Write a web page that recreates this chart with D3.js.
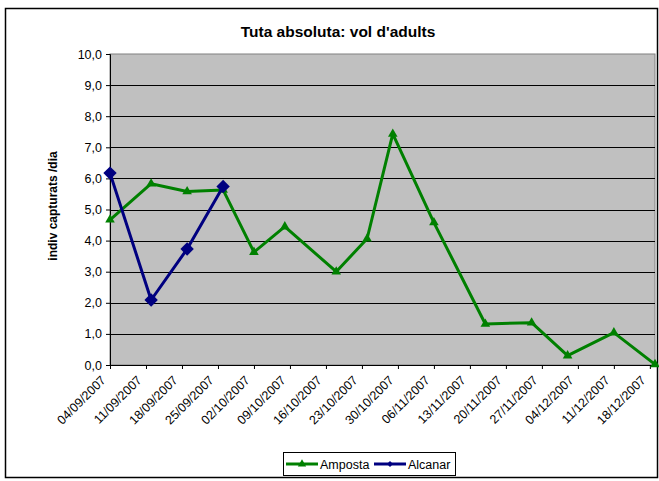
<!DOCTYPE html>
<meta charset="utf-8">
<style>
body { margin: 0; background: #fff; }
text { font-family: "Liberation Sans", Arial, sans-serif; }
</style>
<body>
<script src="https://d3js.org/d3.v7.min.js"></script>
<script>

// data
var ampostaDates = ["04/09/2007","12/09/2007","19/09/2007","26/09/2007","02/10/2007","08/10/2007",
                    "18/10/2007","24/10/2007","29/10/2007","06/11/2007","16/11/2007","25/11/2007",
                    "02/12/2007","11/12/2007","19/12/2007"];
var ampostaValues = [4.67, 5.83, 5.58, 5.63, 3.63, 4.45, 3.0, 4.06, 7.43, 4.58, 1.32, 1.36, 0.30, 1.04, 0.02];
var alcanarDates = ["04/09/2007","12/09/2007","19/09/2007","26/09/2007"];
var alcanarValues = [6.17, 2.09, 3.73, 5.74];
var tickLabels = ["04/09/2007","11/09/2007","18/09/2007","25/09/2007","02/10/2007","09/10/2007",
                  "16/10/2007","23/10/2007","30/10/2007","06/11/2007","13/11/2007","20/11/2007",
                  "27/11/2007","04/12/2007","11/12/2007","18/12/2007"];
var yTicks = [0,1,2,3,4,5,6,7,8,9,10];

var parse = d3.utcParse("%d/%m/%Y");

var W = 659, H = 481;
var plot = {left: 110, right: 655, top: 54, bottom: 365};

var svg = d3.select("body").append("svg")
    .attr("width", W).attr("height", H);

// chart border
svg.append("rect")
    .attr("x", 5.5).attr("y", 8.5)
    .attr("width", 652).attr("height", 469)
    .attr("fill", "#fff").attr("stroke", "#000").attr("stroke-width", 1.5);

var x = d3.scaleUtc()
    .domain([parse("04/09/2007"), parse("19/12/2007")])
    .range([plot.left, plot.right]);
var y = d3.scaleLinear().domain([0, 10]).range([plot.bottom, plot.top]);

// plot area
svg.append("rect")
    .attr("x", plot.left).attr("y", plot.top)
    .attr("width", plot.right - plot.left).attr("height", plot.bottom - plot.top)
    .attr("fill", "#c0c0c0").attr("stroke", "#808080").attr("stroke-width", 1);

// gridlines
svg.append("g").selectAll("line")
    .data(yTicks.slice(1, -1))
    .join("line")
    .attr("x1", plot.left).attr("x2", plot.right)
    .attr("y1", d => Math.round(y(d)) + 0.5).attr("y2", d => Math.round(y(d)) + 0.5)
    .attr("stroke", "#000").attr("stroke-width", 1);

// y axis
var yAxis = svg.append("g")
    .attr("transform", "translate(" + plot.left + ",0)")
    .call(d3.axisLeft(y).tickValues(yTicks).tickSize(4).tickPadding(4)
        .tickFormat(d => d3.format(".1f")(d).replace(".", ",")));
yAxis.select(".domain").attr("stroke", "#000");
yAxis.selectAll("text").attr("font-size", 12.5).attr("fill", "#000")
    .style("font-family", "'Liberation Sans', Arial, sans-serif");

// x axis
var tickDates = tickLabels.map(parse);
var xAxis = svg.append("g")
    .attr("transform", "translate(0," + plot.bottom + ")")
    .call(d3.axisBottom(x).tickValues(tickDates).tickSize(4).tickSizeOuter(0)
        .tickFormat(d3.utcFormat("%d/%m/%Y")));
xAxis.select(".domain").attr("stroke", "#000");
xAxis.selectAll("text")
    .attr("font-size", 12.5).attr("fill", "#000")
    .style("font-family", "'Liberation Sans', Arial, sans-serif")
    .attr("text-anchor", "end")
    .attr("dy", null)
    .attr("y", 0)
    .attr("transform", "translate(-4,16) rotate(-45)");

// lines
var line = d3.line()
    .x(d => x(d.date))
    .y(d => y(d.value));

var amposta = ampostaDates.map((d, i) => ({date: parse(d), value: ampostaValues[i]}));
var alcanar = alcanarDates.map((d, i) => ({date: parse(d), value: alcanarValues[i]}));

var green = "#008000", navy = "#000080";

svg.append("path").datum(amposta)
    .attr("d", line).attr("fill", "none")
    .attr("stroke", green).attr("stroke-width", 3).attr("stroke-linejoin", "round");
svg.append("g").selectAll("path")
    .data(amposta).join("path")
    .attr("d", d3.symbol(d3.symbolTriangle, 40))
    .attr("transform", d => "translate(" + x(d.date) + "," + y(d.value) + ")")
    .attr("fill", green);

svg.append("path").datum(alcanar)
    .attr("d", line).attr("fill", "none")
    .attr("stroke", navy).attr("stroke-width", 3).attr("stroke-linejoin", "round");
svg.append("g").selectAll("path")
    .data(alcanar).join("path")
    .attr("d", d3.symbol(d3.symbolSquare, 90))
    .attr("transform", d => "translate(" + x(d.date) + "," + y(d.value) + ") rotate(45)")
    .attr("fill", navy);

// title
svg.append("text")
    .attr("x", 338).attr("y", 36.5)
    .attr("text-anchor", "middle")
    .attr("font-size", 15.5).attr("font-weight", "bold")
    .text("Tuta absoluta: vol d'adults");

// y axis title
svg.append("text")
    .attr("transform", "translate(57,206) rotate(-90)")
    .attr("text-anchor", "middle")
    .attr("font-size", 12).attr("font-weight", "bold")
    .text("indiv capturats /dia");

// legend
var legend = svg.append("g");
legend.append("rect")
    .attr("x", 283.5).attr("y", 452.5).attr("width", 172).attr("height", 23)
    .attr("fill", "#fff").attr("stroke", "#000").attr("stroke-width", 1);

var items = [
    {name: "Amposta", color: green, x: 286, sym: d3.symbolTriangle, size: 30, rot: 0},
    {name: "Alcanar", color: navy, x: 374, sym: d3.symbolSquare, size: 18, rot: 45}
];
items.forEach(function(it) {
    legend.append("line")
        .attr("x1", it.x).attr("x2", it.x + 32)
        .attr("y1", 464).attr("y2", 464)
        .attr("stroke", it.color).attr("stroke-width", 3);
    legend.append("path")
        .attr("d", d3.symbol(it.sym, it.size))
        .attr("transform", "translate(" + (it.x + 16) + ",464) rotate(" + it.rot + ")")
        .attr("fill", it.color);
    legend.append("text")
        .attr("x", it.x + 34).attr("y", 468.5)
        .attr("font-size", 12.5)
        .text(it.name);
});

</script>
</body>
